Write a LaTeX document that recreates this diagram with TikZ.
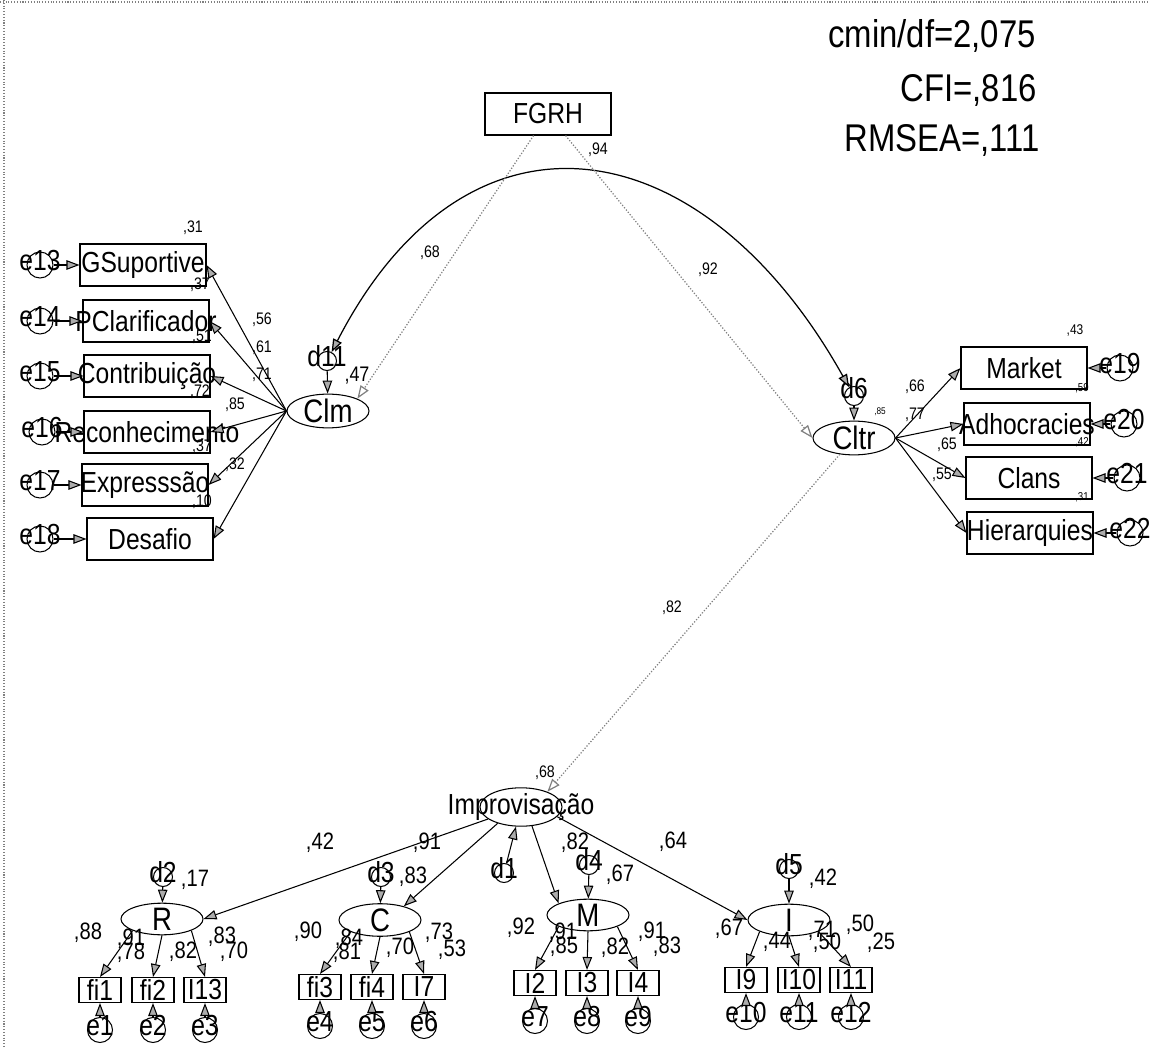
\documentclass[tikz,border=0pt]{standalone}
\usepackage{fontspec}
\setmainfont[FakeStretch=0.85]{Liberation Sans}
\usetikzlibrary{arrows.meta,shapes.geometric}

\begin{document}
\begin{tikzpicture}[
    x=0.2mm, y=-0.2mm,
    font=\fontsize{16.5}{16.5}\selectfont,
    >={Triangle[length=2.6mm,width=1.9mm,fill=gray!65]},
    obs/.style={rectangle,draw,line width=0.6pt,inner sep=0pt,
                minimum width=25.2mm,minimum height=8.4mm},
    obsp/.style={rectangle,draw,line width=0.6pt,inner sep=0pt,
                 minimum width=8.4mm,minimum height=5mm},
    latente/.style={ellipse,draw,line width=0.6pt,inner sep=0pt,
                    minimum width=16.4mm,minimum height=6mm,
                    font=\fontsize{18.5}{18.5}\selectfont},
    erro/.style={circle,draw,line width=0.6pt,inner sep=0pt,minimum size=5mm},
    dist/.style={circle,draw,line width=0.6pt,inner sep=0pt,minimum size=3.8mm},
    rot/.style={font=\fontsize{16.5}{16.5}\selectfont,inner sep=0pt,yshift=2.5pt},
    seta/.style={line width=0.6pt,->},
    cov/.style={line width=0.7pt,<->},
    pont/.style={gray,densely dotted,line width=0.7pt,
                 -{Triangle[open,length=2.6mm,width=1.9mm]}},
    coef/.style={font=\fontsize{9.5}{9.5}\selectfont,inner sep=0pt},
    coefg/.style={font=\fontsize{13.5}{13.5}\selectfont,inner sep=0pt},
    coefp/.style={font=\fontsize{6.5}{6.5}\selectfont,inner sep=0pt},
    ajuste/.style={font=\fontsize{22}{22}\selectfont,anchor=east,inner sep=0pt},
    moldura/.style={gray,densely dotted,line width=0.6pt}]

  \useasboundingbox (0,0) rectangle (1150,1048);
  \draw[moldura] (0,2) -- (1150,2);
  \draw[moldura] (4,0) -- (4,1048);

  \node[ajuste] (cmin)  at (1036,36)  {cmin/df=2,075};
  \node[ajuste] (cfi)   at (1037,90)  {CFI=,816};
  \node[ajuste] (rmsea) at (1040,140) {RMSEA=,111};

  \node[obs] (fgrh) at (548,114) {FGRH};

  % clima
  \node[latente] (clm) at (328,411) {Clm};
  \node[dist,label={[rot]center:d11}] (d11) at (327,361) {};

  \node[obs] (gsup)  at (143,265) {GSuportive};
  \node[obs] (pclar) at (146,321) {\makebox[0pt]{PClarificador}};
  \node[obs] (contr) at (147,376) {\makebox[0pt]{Contribuição}};
  \node[obs] (recon) at (147,432) {\makebox[0pt]{Reconhecimento}};
  \node[obs] (expr)  at (145,485) {\makebox[0pt]{Expresssão}};
  \node[obs] (desaf) at (150,539) {Desafio};

  \node[erro,minimum size=5.2mm,label={[rot]center:e13}] (e13) at (40,265) {};
  \node[erro,minimum size=5.2mm,label={[rot]center:e14}] (e14) at (40,321) {};
  \node[erro,minimum size=5.2mm,label={[rot]center:e15}] (e15) at (40,376) {};
  \node[erro,minimum size=5.2mm,label={[rot]center:e16}] (e16) at (42,432) {};
  \node[erro,minimum size=5.2mm,label={[rot]center:e17}] (e17) at (40,485) {};
  \node[erro,minimum size=5.2mm,label={[rot]center:e18}] (e18) at (40,539) {};

  \draw[seta] (e13) -- (gsup);
  \draw[seta] (e14) -- (pclar);
  \draw[seta] (e15) -- (contr);
  \draw[seta] (e16) -- (recon);
  \draw[seta] (e17) -- (expr);
  \draw[seta] (e18) -- (desaf);

  \draw[seta] (clm.west) -- (gsup.east);
  \draw[seta] (clm.west) -- (pclar.east);
  \draw[seta] (clm.west) -- (contr.east);
  \draw[seta] (clm.west) -- (recon.east);
  \draw[seta] (clm.west) -- (expr.east);
  \draw[seta] (clm.west) -- (desaf.east);
  \draw[seta] (d11) -- (clm);

  \node[coef] at (193,228) {,31};
  \node[coef] at (200,285) {,37};
  \node[coef] at (202,337) {,51};
  \node[coef] at (200,392) {,72};
  \node[coef] at (202,447) {,37};
  \node[coef] at (202,502) {,10};
  \node[coef] at (262,320) {,56};
  \node[coef] at (262,348) {,61};
  \node[coef] at (262,375) {,71};
  \node[coef] at (235,405) {,85};
  \node[coef] at (235,465) {,32};
  \node[coef,font=\fontsize{12}{12}\selectfont] at (357,376) {,47};

  % cultura
  \node[latente] (cltr) at (854,438) {Cltr};
  \node[dist,label={[rot,yshift=2pt]center:d6}] (d6) at (854,396) {};

  \node[obs] (market) at (1024,368) {Market};
  \node[obs] (adhoc)  at (1027,424) {\makebox[0pt]{Adhocracies}};
  \node[obs] (clans)  at (1029,478) {Clans};
  \node[obs] (hier)   at (1030,533) {\makebox[0pt]{Hierarquies}};

  \node[erro,minimum size=5.2mm,label={[rot]center:e19}] (e19) at (1120,368) {};
  \node[erro,minimum size=5.2mm,label={[rot]center:e20}] (e20) at (1124,424) {};
  \node[erro,minimum size=5.2mm,label={[rot]center:e21}] (e21) at (1127,478) {};
  \node[erro,minimum size=5.2mm,label={[rot]center:e22}] (e22) at (1130,533) {};

  \draw[seta] (e19) -- (market);
  \draw[seta] (e20) -- (adhoc);
  \draw[seta] (e21) -- (clans);
  \draw[seta] (e22) -- (hier);

  \draw[seta] (cltr.east) -- (market.west);
  \draw[seta] (cltr.east) -- (adhoc.west);
  \draw[seta] (cltr.east) -- (clans.west);
  \draw[seta] (cltr.east) -- (hier.west);
  \draw[seta] (d6) -- (cltr);

  \node[coef] at (915,387) {,66};
  \node[coef] at (915,415) {,77};
  \node[coef] at (947,445) {,65};
  \node[coef] at (942,475) {,55};
  \node[coef,font=\fontsize{8}{8}\selectfont] at (1075,330) {,43};
  \node[coefp] at (1082,388) {,59};
  \node[coefp] at (1082,442) {,42};
  \node[coefp] at (1082,497) {,31};
  \node[coef,font=\fontsize{5.5}{5.5}\selectfont] at (880,412) {,85};

  \draw[cov] (d11) .. controls (468,87) and (703,126) .. (d6);
  \node[coef] at (598,150) {,94};

  % improvisacao
  \node[latente,minimum height=6.4mm,font=\fontsize{16.5}{16.5}\selectfont]
    (impr) at (521,807) {\makebox[0pt]{Improvisação}};
  \node[dist,label={[rot]center:d1}] (d1) at (504,873) {};
  \draw[seta] (d1) -- (impr);

  \draw[pont] (fgrh) -- (clm.north east);
  \draw[pont] (fgrh) -- (cltr.west);
  \draw[pont] (cltr) -- (impr.30);
  \node[coef] at (430,253) {,68};
  \node[coef] at (708,270) {,92};
  \node[coef] at (672,608) {,82};
  \node[coef] at (545,773) {,68};

  \node[latente] (R) at (162,919) {R};
  \node[latente] (C) at (380,920) {C};
  \node[latente] (M) at (588,915) {M};
  \node[latente] (I) at (789,920) {I};

  \node[dist,label={[rot]center:d2}] (d2) at (163,877) {};
  \node[dist,label={[rot]center:d3}] (d3) at (381,877) {};
  \node[dist,label={[rot]center:d4}] (d4) at (589,865) {};
  \node[dist,label={[rot]center:d5}] (d5) at (789,869) {};

  \draw[seta] (impr.200) -- (R.east);
  \draw[seta] (impr.215) -- (C.30);
  \draw[seta] (impr.300) -- (M.north west);
  \draw[seta] (impr.345) -- (I.west);
  \draw[seta] (d2) -- (R);
  \draw[seta] (d3) -- (C);
  \draw[seta] (d4) -- (M);
  \draw[seta] (d5) -- (I);

  \node[obsp] (fi1) at (100,990) {fi1};
  \node[obsp] (fi2) at (153,990) {fi2};
  \node[obsp] (I13) at (205,990) {I13};
  \node[obsp] (fi3) at (320,987) {fi3};
  \node[obsp] (fi4) at (372,987) {fi4};
  \node[obsp] (I7)  at (424,987) {I7};
  \node[obsp] (I2)  at (535,983) {I2};
  \node[obsp] (I3)  at (587,983) {I3};
  \node[obsp] (I4)  at (638,983) {I4};
  \node[obsp] (I9)  at (746,980) {I9};
  \node[obsp] (I10) at (799,980) {I10};
  \node[obsp] (I11) at (851,980) {I11};

  \node[erro,label={[rot]center:e1}]  (e1)  at (100,1030) {};
  \node[erro,label={[rot]center:e2}]  (e2)  at (153,1030) {};
  \node[erro,label={[rot]center:e3}]  (e3)  at (205,1030) {};
  \node[erro,label={[rot]center:e4}]  (e4)  at (320,1026) {};
  \node[erro,label={[rot]center:e5}]  (e5)  at (372,1026) {};
  \node[erro,label={[rot]center:e6}]  (e6)  at (424,1026) {};
  \node[erro,label={[rot]center:e7}]  (e7)  at (535,1021) {};
  \node[erro,label={[rot]center:e8}]  (e8)  at (587,1021) {};
  \node[erro,label={[rot]center:e9}]  (e9)  at (638,1021) {};
  \node[erro,label={[rot]center:e10}] (e10) at (746,1017) {};
  \node[erro,label={[rot]center:e11}] (e11) at (799,1017) {};
  \node[erro,label={[rot]center:e12}] (e12) at (851,1017) {};

  \draw[seta] (R.south west) -- (fi1.north);
  \draw[seta] (R.south)      -- (fi2.north);
  \draw[seta] (R.south east) -- (I13.north);
  \draw[seta] (C.south west) -- (fi3.north);
  \draw[seta] (C.south)      -- (fi4.north);
  \draw[seta] (C.south east) -- (I7.north);
  \draw[seta] (M.south west) -- (I2.north);
  \draw[seta] (M.south)      -- (I3.north);
  \draw[seta] (M.south east) -- (I4.north);
  \draw[seta] (I.south west) -- (I9.north);
  \draw[seta] (I.south)      -- (I10.north);
  \draw[seta] (I.south east) -- (I11.north);

  \draw[seta] (e1) -- (fi1);
  \draw[seta] (e2) -- (fi2);
  \draw[seta] (e3) -- (I13);
  \draw[seta] (e4) -- (fi3);
  \draw[seta] (e5) -- (fi4);
  \draw[seta] (e6) -- (I7);
  \draw[seta] (e7) -- (I2);
  \draw[seta] (e8) -- (I3);
  \draw[seta] (e9) -- (I4);
  \draw[seta] (e10) -- (I9);
  \draw[seta] (e11) -- (I10);
  \draw[seta] (e12) -- (I11);

  \node[coefg] at (320,843) {,42};
  \node[coefg] at (427,843) {,91};
  \node[coefg] at (575,843) {,82};
  \node[coefg] at (673,842) {,64};

  \node[coefg] at (195,880) {,17};
  \node[coefg] at (88,933)  {,88};
  \node[coefg] at (131,939) {,91};
  \node[coefg] at (131,953) {,78};
  \node[coefg] at (183,952) {,82};
  \node[coefg] at (222,937) {,83};
  \node[coefg] at (234,952) {,70};

  \node[coefg] at (413,877) {,83};
  \node[coefg] at (308,932) {,90};
  \node[coefg] at (349,939) {,84};
  \node[coefg] at (347,953) {,81};
  \node[coefg] at (400,948) {,70};
  \node[coefg] at (439,933) {,73};
  \node[coefg] at (452,950) {,53};

  \node[coefg] at (620,875) {,67};
  \node[coefg] at (521,928) {,92};
  \node[coefg] at (563,933) {,91};
  \node[coefg] at (564,947) {,85};
  \node[coefg] at (615,948) {,82};
  \node[coefg] at (652,932) {,91};
  \node[coefg] at (667,947) {,83};

  \node[coefg] at (823,879) {,42};
  \node[coefg] at (729,929) {,67};
  \node[coefg] at (777,942) {,44};
  \node[coefg] at (822,931) {,71};
  \node[coefg] at (827,943) {,50};
  \node[coefg] at (860,925) {,50};
  \node[coefg] at (881,943) {,25};

\end{tikzpicture}
\end{document}
